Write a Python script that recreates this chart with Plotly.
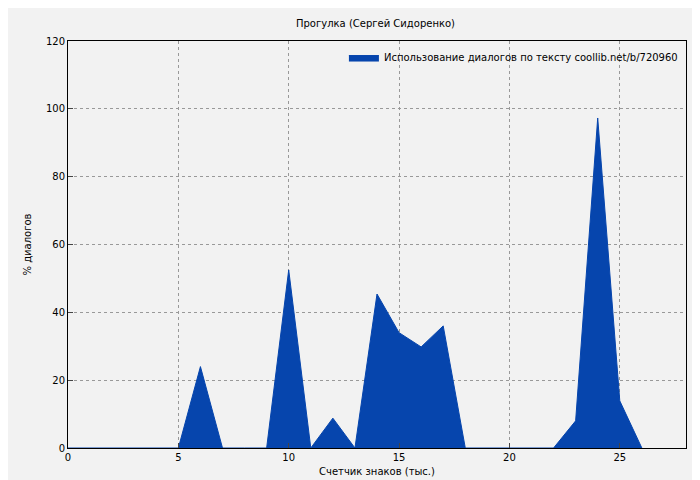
import plotly.graph_objects as go

x = list(range(0, 27))
y = [0, 0, 0, 0, 0, 0, 24, 0, 0, 0, 52.5, 0, 8.8, 0, 45.4, 34, 29.8, 36, 0, 0, 0, 0, 0, 8, 97.3, 13.9, 0]

fig = go.Figure()
fig.add_trace(go.Scatter(x=x, y=y, mode="lines", fill="tozeroy",
                         line=dict(color="#0645ad", width=1), fillcolor="#0645ad",
                         name="Использование диалогов по тексту coollib.net/b/720960"))
fig.update_layout(
    width=700, height=480,
    paper_bgcolor="#f2f2f2", plot_bgcolor="#f2f2f2",
    font=dict(family="DejaVu Sans", size=11, color="black"),
    title=dict(text="Прогулка (Сергей Сидоренко)", x=0.525, y=0.975, xanchor="center", font=dict(size=10)),
    margin=dict(l=60, r=22, t=33, b=40),
    showlegend=True,
    legend=dict(x=0.995, y=0.995, xanchor="right", yanchor="top", bgcolor="rgba(0,0,0,0)",
                font=dict(size=10)),
    xaxis=dict(range=[0, 28], tickvals=[0, 5, 10, 15, 20, 25], showgrid=True, gridcolor="#999",
               griddash="dot", zeroline=False, showline=True, linecolor="black", mirror=True,
               ticks="inside", automargin=False, tickfont=dict(size=10),
               title=dict(text="Счетчик знаков (тыс.)", standoff=5, font=dict(size=10))),
    yaxis=dict(range=[0, 120], tickvals=[0, 20, 40, 60, 80, 100, 120], showgrid=True, gridcolor="#999",
               griddash="dot", zeroline=False, showline=True, linecolor="black", mirror=True,
               ticks="inside", automargin=False, tickfont=dict(size=10),
               title=dict(text="% диалогов", standoff=12, font=dict(size=10))),
)
fig.write_html("out.html")
